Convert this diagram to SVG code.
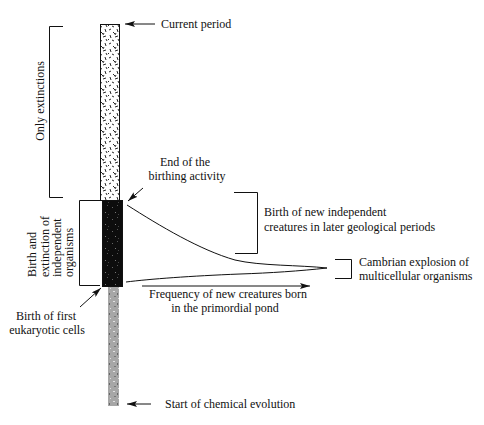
<svg xmlns="http://www.w3.org/2000/svg" width="484" height="425" viewBox="0 0 484 425">
<style>
text{font-family:"Liberation Serif","Times New Roman",serif;font-size:12px;fill:#111}
.ln{fill:none;stroke:#111;stroke-width:1}
.ar{fill:none;stroke:#111;stroke-width:1;marker-end:url(#ah)}
</style>
<defs>
<marker id="ah" viewBox="0 0 10 6" refX="10" refY="3" markerWidth="10" markerHeight="6" markerUnits="userSpaceOnUse" orient="auto">
<path d="M0,0 L10,3 L0,6 L2,3 Z" fill="#111"/>
</marker>
<pattern id="pw" width="12" height="14" patternUnits="userSpaceOnUse">
<rect width="12" height="14" fill="#fff"/>
<path d="M1,2 l2,-1 M5,4 l2,2 M9,1 l1,3 M2,7 l1,3 M7,9 l3,-1 M4,12 l2,1 M10,11 l1,2 M0,12 l1,-1 M8,5 l-1,2" stroke="#111" stroke-width="0.9"/>
</pattern>
<pattern id="pd" width="10" height="12" patternUnits="userSpaceOnUse">
<rect width="10" height="12" fill="#0d0d0d"/>
<rect x="2" y="3" width="1" height="1" fill="#666"/>
<rect x="7" y="1" width="1" height="1" fill="#555"/>
<rect x="5" y="8" width="1" height="1" fill="#777"/>
<rect x="8" y="10" width="1" height="1" fill="#444"/>
</pattern>
<pattern id="pg" width="8" height="10" patternUnits="userSpaceOnUse">
<rect width="8" height="10" fill="#a6a6a6"/>
<rect x="1" y="1" width="2" height="1" fill="#e0e0e0"/>
<rect x="5" y="3" width="1" height="2" fill="#666"/>
<rect x="2" y="6" width="2" height="1" fill="#777"/>
<rect x="6" y="8" width="1" height="1" fill="#ddd"/>
</pattern>
</defs>

<g id="column">
<rect x="100.5" y="24.5" width="19" height="176" fill="url(#pw)" stroke="#111"/>
<rect x="102.5" y="200.5" width="20" height="86" fill="url(#pd)" stroke="#111"/>
<rect x="108" y="287" width="11" height="119" fill="url(#pg)"/>
</g>

<g id="connectors">
<path class="ar" d="M155,24 L125,24"/>
<path class="ar" d="M151,404 L127,404"/>
<path class="ar" d="M143,188 L128,201"/>
<path class="ar" d="M80,307 L101,288"/>
<path class="ar" d="M142,286 L310,286"/>
<path class="ln" d="M127,205 C160,226 200,250 235,260 C260,266 300,265 327,268 C300,271 270,273 240,274 C190,276 150,279 126,282"/>
</g>

<g id="bracket-only-extinctions">
<path class="ln" d="M63,26.5 H49.5 V197.5 H63"/>
<text transform="translate(44,101) rotate(-90)" text-anchor="middle">Only extinctions</text>
</g>

<g id="bracket-birth-extinction">
<path class="ln" d="M100,200.5 H79.5 V285.5 H100"/>
<text transform="translate(36,277) rotate(-90)">Birth and</text>
<text transform="translate(48.5,277) rotate(-90)">extinction of</text>
<text transform="translate(60.5,277) rotate(-90)">independent</text>
<text transform="translate(72.5,277) rotate(-90)">organisms</text>
</g>

<g id="label-current">
<text x="161" y="28">Current period</text>
</g>

<g id="label-end">
<text x="185" y="166" text-anchor="middle">End of the</text>
<text x="187" y="180" text-anchor="middle">birthing activity</text>
</g>

<g id="bracket-later">
<path class="ln" d="M234,192.5 H257.5 V253.5 H235"/>
<text x="264" y="216">Birth of new independent</text>
<text x="264" y="231">creatures in later geological periods</text>
</g>

<g id="bracket-cambrian">
<path class="ln" d="M335,259.5 H351.5 V278.5 H335"/>
<text x="359" y="266">Cambrian explosion of</text>
<text x="359" y="280">multicellular organisms</text>
</g>

<g id="label-frequency">
<text x="228" y="298" text-anchor="middle">Frequency of new creatures born</text>
<text x="225" y="312" text-anchor="middle">in the primordial pond</text>
</g>

<g id="label-eukaryotic">
<text x="46" y="320" text-anchor="middle">Birth of first</text>
<text x="47" y="334" text-anchor="middle">eukaryotic cells</text>
</g>

<g id="label-start">
<text x="165" y="408">Start of chemical evolution</text>
</g>
</svg>
